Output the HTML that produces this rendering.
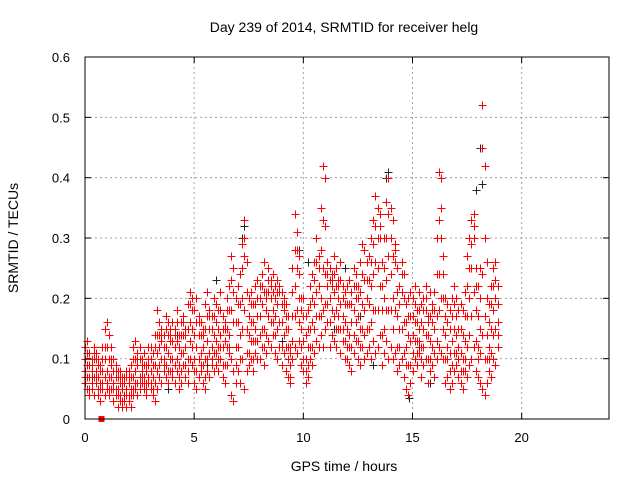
<!DOCTYPE html>
<html><head><meta charset="utf-8"><style>
html,body{margin:0;padding:0;background:#fff}
svg{display:block;font-family:"Liberation Sans",Arial,sans-serif}
</style></head><body>
<svg id="chart" width="640" height="480" viewBox="0 0 640 480" xmlns="http://www.w3.org/2000/svg">
<rect width="640" height="480" fill="#fff"/>
<text x="344" y="32" font-size="14" text-anchor="middle">Day 239 of 2014, SRMTID for receiver helg</text>
<text transform="translate(18,238) rotate(-90)" font-size="14" text-anchor="middle">SRMTID / TECUs</text>
<text x="344" y="471" font-size="14" text-anchor="middle">GPS time / hours</text>
<g id="grid"></g>
<g id="ticks"></g>
<g id="marks" shape-rendering="crispEdges"></g>
<rect x="85" y="57" width="524" height="362" fill="none" stroke="#000" stroke-width="1"/>
</svg>
<script>
const xTicks=[0,5,10,15,20];
const yTicks=[0,0.1,0.2,0.3,0.4,0.5,0.6];
const yTickLabels=["0","0.1","0.2","0.3","0.4","0.5","0.6"];
const redLo=[.06,.05,.04,.05,.04,.06,.04,.03,.05,.04,.05,.04,.05,.03,.04,.02,.03,.02,.03,.02,.03,.02,.04,.05,.04,.05,.06,.05,.04,.06,.05,.04,.03,.05,.07,.06,.08,.07,.06,.08,.07,.06,.08,.05,.06,.09,.07,.06,.10,.09,.06,.05,.07,.08,.06,.05,.08,.07,.09,.08,.09,.08,.10,.07,.06,.09,.11,.04,.03,.06,.08,.06,.10,.05,.08,.09,.10,.08,.11,.10,.10,.12,.09,.11,.13,.12,.14,.11,.10,.12,.09,.11,.08,.07,.06,.10,.12,.11,.13,.09,.08,.06,.07,.10,.09,.11,.13,.12,.14,.12,.15,.16,.12,.14,.13,.12,.15,.11,.13,.10,.10,.09,.08,.11,.13,.10,.09,.12,.10,.11,.12,.10,.13,.11,.12,.14,.09,.11,.13,.10,.12,.10,.11,.08,.09,.10,.07,.05,.04,.06,.08,.10,.09,.11,.07,.09,.10,.06,.08,.09,.07,.10,.12,.11,.10,.06,.07,.05,.06,.08,.09,.07,.06,.05,.08,.07,.09,.10,.12,.08,.07,.06,.05,.04,.06,.08,.07,.10,.09,.12];
const redQ1=[.07,.07,.05,.06,.07,.07,.05,.05,.06,.07,.06,.05,.07,.05,.05,.04,.04,.03,.04,.04,.04,.04,.05,.06,.06,.06,.07,.06,.05,.07,.06,.05,.06,.08,.09,.10,.09,.09,.08,.10,.08,.09,.10,.07,.08,.11,.09,.08,.13,.12,.08,.08,.10,.09,.09,.07,.10,.11,.10,.11,.11,.10,.12,.09,.09,.12,.12,.10,.08,.09,.12,.10,.15,.18,.11,.11,.13,.10,.13,.13,.14,.15,.12,.14,.17,.16,.16,.14,.15,.16,.12,.14,.12,.10,.07,.13,.17,.18,.16,.12,.10,.08,.09,.12,.12,.15,.17,.17,.17,.18,.19,.19,.16,.18,.17,.15,.17,.15,.15,.13,.12,.12,.12,.14,.16,.13,.12,.15,.14,.15,.15,.16,.18,.18,.18,.22,.14,.15,.18,.18,.18,.15,.18,.12,.12,.15,.11,.09,.09,.09,.11,.13,.11,.13,.10,.12,.14,.10,.10,.12,.11,.13,.18,.20,.15,.10,.10,.08,.09,.11,.11,.10,.08,.08,.10,.12,.14,.17,.21,.13,.10,.11,.14,.10,.10,.10,.11,.14,.15,.14];
const redMid=[.08,.09,.07,.08,.10,.08,.07,.06,.08,.10,.08,.07,.09,.06,.07,.05,.06,.05,.04,.05,.06,.05,.07,.08,.09,.07,.08,.07,.06,.09,.08,.07,.09,.11,.12,.13,.10,.12,.11,.13,.10,.12,.13,.09,.11,.14,.12,.10,.16,.15,.10,.12,.14,.11,.12,.10,.13,.15,.12,.14,.13,.12,.14,.12,.13,.15,.14,.18,.16,.12,.16,.14,.20,.27,.15,.14,.16,.13,.15,.17,.17,.19,.15,.18,.21,.20,.18,.17,.19,.21,.16,.18,.15,.12,.09,.17,.22,.25,.20,.15,.13,.10,.12,.15,.16,.19,.21,.22,.20,.25,.24,.22,.20,.22,.21,.18,.20,.19,.17,.16,.15,.14,.16,.18,.20,.17,.15,.19,.18,.20,.19,.22,.24,.26,.25,.30,.18,.20,.23,.27,.24,.20,.26,.17,.15,.21,.16,.12,.14,.13,.14,.16,.13,.15,.12,.15,.18,.14,.13,.16,.15,.17,.24,.30,.20,.14,.12,.11,.13,.15,.14,.12,.11,.10,.13,.17,.20,.25,.30,.18,.12,.15,.24,.17,.14,.12,.15,.18,.20,.16];
const redQ3=[.10,.11,.09,.09,.11,.10,.09,.08,.10,.12,.12,.10,.10,.08,.08,.07,.07,.06,.06,.07,.07,.07,.10,.10,.10,.10,.09,.09,.08,.10,.10,.09,.12,.14,.14,.14,.12,.15,.14,.14,.13,.14,.16,.12,.14,.16,.14,.15,.19,.18,.14,.16,.16,.14,.14,.15,.17,.17,.15,.17,.16,.15,.18,.15,.15,.18,.18,.23,.21,.16,.19,.19,.25,.30,.21,.17,.19,.16,.19,.20,.20,.22,.21,.20,.23,.22,.21,.20,.21,.22,.19,.19,.17,.15,.11,.21,.28,.28,.24,.18,.17,.14,.15,.19,.20,.23,.26,.25,.28,.33,.32,.24,.23,.23,.24,.22,.22,.23,.20,.19,.19,.19,.19,.22,.22,.20,.21,.24,.23,.23,.23,.26,.29,.32,.30,.32,.22,.25,.30,.34,.30,.27,.28,.21,.19,.24,.20,.16,.17,.17,.17,.19,.16,.18,.16,.18,.20,.16,.17,.18,.18,.24,.33,.35,.24,.17,.16,.15,.17,.19,.17,.15,.15,.14,.17,.22,.25,.29,.32,.22,.17,.20,.45,.30,.20,.16,.19,.22,.23,.19];
const redHi=[.12,.13,.11,.10,.12,.11,.10,.09,.12,.15,.16,.14,.12,.10,.09,.08,.08,.07,.07,.08,.08,.09,.12,.13,.11,.12,.10,.11,.09,.12,.12,.11,.14,.18,.16,.15,.14,.17,.16,.15,.16,.15,.18,.14,.16,.17,.15,.19,.21,.20,.18,.20,.17,.16,.15,.19,.21,.18,.17,.20,.19,.18,.21,.17,.16,.20,.22,.27,.25,.20,.22,.24,.29,.33,.26,.20,.21,.19,.22,.23,.22,.24,.26,.21,.25,.23,.24,.22,.23,.22,.21,.20,.19,.17,.12,.25,.34,.31,.27,.20,.20,.17,.18,.22,.24,.26,.30,.27,.35,.42,.40,.26,.25,.24,.27,.25,.23,.26,.22,.21,.22,.23,.21,.25,.24,.22,.26,.29,.28,.26,.27,.30,.33,.37,.35,.34,.26,.30,.36,.40,.35,.33,.29,.25,.22,.26,.24,.19,.20,.21,.20,.22,.18,.21,.19,.20,.22,.17,.21,.19,.21,.30,.41,.40,.27,.20,.19,.18,.20,.22,.20,.18,.19,.18,.21,.27,.30,.33,.34,.25,.22,.25,.52,.42,.26,.19,.22,.25,.26,.22];
const blackT=[7.3,7.2,8.6,10.2,11.9,13.9,13.8,14.8,14.85,18.1,18.2,17.9,16.6,6.0,3.8,9.0,12.6,15.8,2.5,4.2,5.6,11.4,13.2,16.9,18.7,0.3,1.2,6.8,9.8,15.3];
const blackV=[.32,.30,.24,.26,.25,.41,.40,.04,.035,.45,.39,.38,.07,.23,.05,.13,.17,.06,.10,.14,.09,.15,.09,.11,.10,.07,.09,.21,.28,.12];
const squareT=[0.75], squareV=[0];
const X0=85,X1=609,Y0=419,Y1=57,XMAX=24,YMAX=0.6;
const sx=t=>X0+(X1-X0)*t/XMAX;
const sy=v=>Y0-(Y0-Y1)*v/YMAX;
const NS="http://www.w3.org/2000/svg";
const grid=document.getElementById('grid'),ticks=document.getElementById('ticks'),marks=document.getElementById('marks');
function mk(tag,attrs,parent){const e=document.createElementNS(NS,tag);for(const k in attrs)e.setAttribute(k,attrs[k]);parent.appendChild(e);return e;}
xTicks.forEach(t=>{const x=sx(t);
 if(t>0){const g=mk('line',{x1:x,y1:Y0,x2:x,y2:Y1,stroke:'#a0a0a0','stroke-dasharray':'2,3'},grid);
 
 }
 mk('line',{x1:x,y1:Y0,x2:x,y2:Y0-6,stroke:'#000'},ticks);
 mk('line',{x1:x,y1:Y1,x2:x,y2:Y1+6,stroke:'#000'},ticks);
 const l=mk('text',{x:x,y:442,'font-size':13,'text-anchor':'middle'},ticks);l.textContent=t;
 
 
});
yTicks.forEach((v,i)=>{const y=sy(v);
 if(v>0&&v<YMAX){const g=mk('line',{x1:X0,y1:y,x2:X1,y2:y,stroke:'#a0a0a0','stroke-dasharray':'2,3'},grid);
 
 }
 mk('line',{x1:X0,y1:y,x2:X0+6,y2:y,stroke:'#000'},ticks);
 mk('line',{x1:X1,y1:y,x2:X1-6,y2:y,stroke:'#000'},ticks);
 const l=mk('text',{x:70,y:y+5,'font-size':13,'text-anchor':'end'},ticks);l.textContent=yTickLabels[i];
 
 
});
function plus(t,v,color,name){const x=Math.round(sx(t))+0.5,y=Math.round(sy(v))+0.5;
 const p=mk('path',{d:`M${x-4},${y}H${x+4}M${x},${y-4}V${y+4}`,stroke:color,'stroke-width':1,fill:'none'},marks);
 
 }
blackT.forEach((t,i)=>plus(t,blackV[i],'#222','black-point'));
[redLo,redQ1,redMid,redQ3,redHi].forEach(arr=>arr.forEach((v,i)=>plus(i*0.1,v,'#ff0000','red-point')));
squareT.forEach((t,i)=>{const s=mk('rect',{x:sx(t)-3,y:sy(squareV[i])-3,width:6,height:6,fill:'#ff0000'},marks);
 
 });
</script>
</body></html>
